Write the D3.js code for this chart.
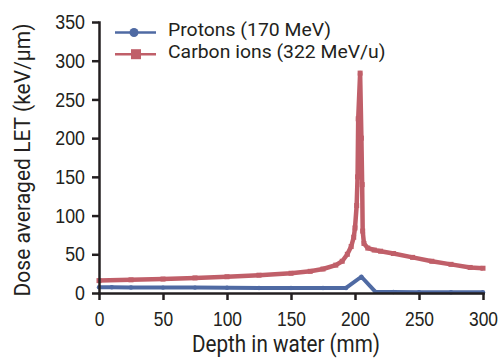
<!DOCTYPE html>
<html>
<head>
<meta charset="utf-8">
<script src="https://cdn.jsdelivr.net/npm/d3@7"></script>
<style>
  body { margin: 0; background: #fff; }
  svg { display: block; font-family: "Roboto", sans-serif; }
  .axis path, .axis line { stroke: #231f20; stroke-width: 2.5; }
  .axis text { fill: #231f20; font-size: 20.7px; }
</style>
</head>
<body>
<div id="chart"></div>
<script>
// depth (mm) vs dose averaged LET (keV/um)
const protonDepth = [0, 10, 25, 50, 75, 100, 125, 150, 175, 193, 205, 216, 230, 250, 275, 300];
const protonLet = [7.5, 7.5, 7.2, 7, 7, 6.8, 6.5, 6.5, 6.5, 6.5, 21, 1.5, 1.2, 1, 1, 1];

const carbonDepth = [0, 25, 50, 75, 100, 125, 150, 165, 175, 185, 190, 194, 197, 199, 200, 201.3, 202, 202.5, 204,
  205, 205.6, 206, 207, 210, 215, 220, 230, 245, 260, 275, 290, 300];
const carbonLet = [16, 17, 18, 19.5, 21, 23, 25.5, 28, 31, 36, 41, 50, 60, 72, 84, 113, 150, 225, 284,
  200, 140, 80, 64, 58, 55.5, 54, 51, 46, 41, 37, 33, 32];

const xTicks = [0, 50, 100, 150, 200, 250, 300];
const yTicks = [0, 50, 100, 150, 200, 250, 300, 350];

const seriesNames = ['Protons (170 MeV)', 'Carbon ions (322 MeV/u)'];
const colors = ['#4f6aa3', '#c05f69'];

const width = 500, height = 358;
const margin = {top: 22, right: 17, bottom: 65, left: 99};

const svg = d3.select('#chart').append('svg')
  .attr('width', width)
  .attr('height', height);

const x = d3.scaleLinear().domain([0, 300]).range([margin.left, width - margin.right]);
const y = d3.scaleLinear().domain([0, 350]).range([height - margin.bottom, margin.top]);

const line = d3.line().x(d => x(d[0])).y(d => y(d[1]));

// squeeze text to look like the condensed face of the original
function condense(sel, k) {
  sel.each(function() {
    const w = this.getComputedTextLength();
    d3.select(this).attr('textLength', w * k).attr('lengthAdjust', 'spacingAndGlyphs');
  });
}

const protons = protonDepth.map((d, i) => [d, protonLet[i]]);
const carbon = carbonDepth.map((d, i) => [d, carbonLet[i]]);

// protons
svg.append('path')
  .datum(protons)
  .attr('fill', 'none')
  .attr('stroke', colors[0])
  .attr('stroke-width', 4)
  .attr('stroke-linejoin', 'round')
  .attr('d', line);

svg.append('g').selectAll('circle')
  .data(protons)
  .enter().append('circle')
  .attr('cx', d => x(d[0]))
  .attr('cy', d => y(d[1]))
  .attr('r', 2.2)
  .attr('fill', colors[0]);

// carbon ions
svg.append('path')
  .datum(carbon)
  .attr('fill', 'none')
  .attr('stroke', colors[1])
  .attr('stroke-width', 4.5)
  .attr('stroke-linejoin', 'round')
  .attr('d', line);

svg.append('g').selectAll('rect')
  .data(carbon)
  .enter().append('rect')
  .attr('x', d => x(d[0]) - 2.5)
  .attr('y', d => y(d[1]) - 2.5)
  .attr('width', 5)
  .attr('height', 5)
  .attr('fill', colors[1]);

// axes
const xAxis = svg.append('g')
  .attr('class', 'axis')
  .attr('transform', `translate(0,${y(0)})`)
  .call(d3.axisBottom(x).tickValues(xTicks).tickSize(7).tickSizeOuter(0).tickPadding(5));
xAxis.selectAll('text').attr('dy', null).attr('y', 33).style('font-size', '20px');
condense(xAxis.selectAll('text'), 0.87);

const yAxis = svg.append('g')
  .attr('class', 'axis')
  .attr('transform', `translate(${x(0)},0)`)
  .call(d3.axisLeft(y).tickValues(yTicks).tickSize(7).tickSizeOuter(0).tickPadding(7));
condense(yAxis.selectAll('text'), 0.86);

svg.selectAll('.axis .domain').attr('stroke-linecap', 'square');

// axis titles
svg.append('text')
  .attr('x', 286)
  .attr('y', 352)
  .attr('text-anchor', 'middle')
  .attr('font-size', 23)
  .attr('fill', '#231f20')
  .attr('textLength', 188)
  .attr('lengthAdjust', 'spacingAndGlyphs')
  .text('Depth in water (mm)');

svg.append('text')
  .attr('transform', 'translate(29.5,160) rotate(-90)')
  .attr('text-anchor', 'middle')
  .attr('font-size', 22)
  .attr('fill', '#231f20')
  .attr('textLength', 273)
  .attr('lengthAdjust', 'spacingAndGlyphs')
  .text('Dose averaged LET (keV/µm)');

// legend
const legend = svg.append('g').attr('transform', 'translate(115,32.5)');
seriesNames.forEach((name, i) => {
  const g = legend.append('g').attr('transform', `translate(0,${i * 21.7})`);
  g.append('line')
    .attr('x1', 0).attr('x2', 41)
    .attr('stroke', colors[i])
    .attr('stroke-width', 2.5);
  if (i === 0) {
    g.append('circle').attr('cx', 19).attr('r', 4.5).attr('fill', colors[i]);
  } else {
    g.append('rect').attr('x', 16).attr('y', -5).attr('width', 10).attr('height', 10).attr('fill', colors[i]);
  }
  const t = g.append('text')
    .attr('x', 53)
    .attr('y', 3.3)
    .attr('font-size', 19)
    .attr('fill', '#231f20')
    .text(name);
  condense(t, 1.02);
});
</script>
</body>
</html>
